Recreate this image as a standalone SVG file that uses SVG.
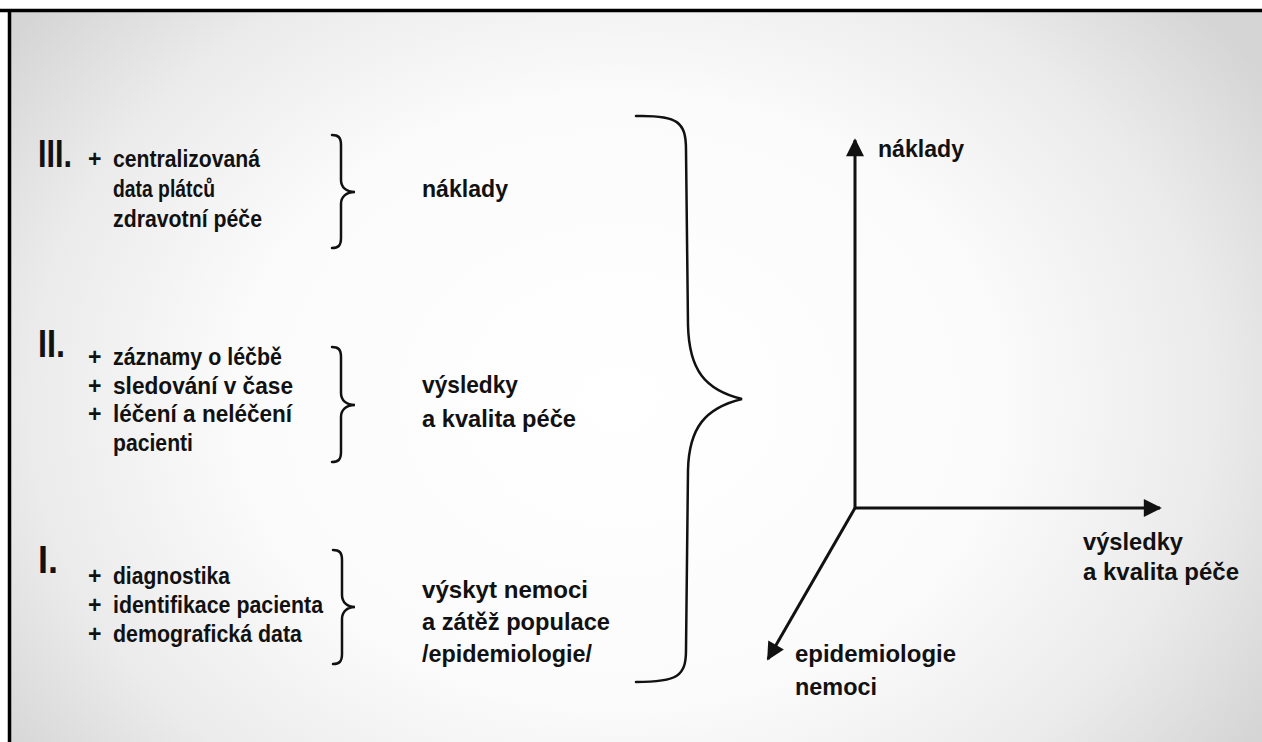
<svg xmlns="http://www.w3.org/2000/svg" width="1262" height="742" viewBox="0 0 1262 742">
<defs>
<radialGradient id="bg" cx="620" cy="400" r="760" gradientUnits="userSpaceOnUse" gradientTransform="translate(620 400) scale(1 0.8) translate(-620 -400)">
<stop offset="0" stop-color="#ffffff"/>
<stop offset="0.5" stop-color="#fbfbfb"/>
<stop offset="0.78" stop-color="#ebebeb"/>
<stop offset="1" stop-color="#d5d5d5"/>
</radialGradient>
<marker id="ah" viewBox="0 0 10 10" refX="9" refY="5" markerWidth="8" markerHeight="6" markerUnits="strokeWidth" orient="auto">
<path d="M0,0 L10,5 L0,10 Z" fill="#111"/>
</marker>
<style>
.t{font-family:"Liberation Sans",Arial,Helvetica,sans-serif;font-weight:bold;fill:#111}
.s{font-size:23px}
.m{font-size:24px}
.r{font-size:38px}
.br{fill:none;stroke:#111;stroke-width:2.5;stroke-linecap:round}
.ax{fill:none;stroke:#111;stroke-width:3}
</style>
</defs>
<rect x="0" y="0" width="1262" height="742" fill="#ffffff"/>
<rect x="9" y="11" width="1253" height="731" fill="url(#bg)"/>
<line x1="0" y1="10.5" x2="1262" y2="10.5" stroke="#000" stroke-width="3.5"/>
<line x1="9.5" y1="9" x2="9.5" y2="742" stroke="#000" stroke-width="3.5"/>

<g id="level3">
<text class="t r" x="38" y="167" textLength="34" lengthAdjust="spacingAndGlyphs">III.</text>
<text class="t s" x="88" y="167">+</text>
<text class="t s" x="113" y="167" textLength="147" lengthAdjust="spacingAndGlyphs">centralizovaná</text>
<text class="t s" x="113" y="197" textLength="102" lengthAdjust="spacingAndGlyphs">data plátců</text>
<text class="t s" x="113" y="227" textLength="149" lengthAdjust="spacingAndGlyphs">zdravotní péče</text>
<path class="br" d="M332,135 C338,135 341,137 341,145 L341,180 C341,187 346,192 355,192 C346,192 341,197 341,204 L341,238 C341,246 338,248 332,248"/>
</g>
<g id="label3">
<text class="t m" x="422" y="197" textLength="86" lengthAdjust="spacingAndGlyphs">náklady</text>
</g>

<g id="level2">
<text class="t r" x="38" y="357" textLength="27" lengthAdjust="spacingAndGlyphs">II.</text>
<text class="t s" x="88" y="365">+</text>
<text class="t s" x="113" y="365" textLength="169" lengthAdjust="spacingAndGlyphs">záznamy o léčbě</text>
<text class="t s" x="88" y="394">+</text>
<text class="t s" x="113" y="394" textLength="180" lengthAdjust="spacingAndGlyphs">sledování v čase</text>
<text class="t s" x="88" y="422">+</text>
<text class="t s" x="113" y="422" textLength="179" lengthAdjust="spacingAndGlyphs">léčení a neléčení</text>
<text class="t s" x="113" y="451" textLength="80" lengthAdjust="spacingAndGlyphs">pacienti</text>
<path class="br" d="M332,347 C338,347 341,349 341,357 L341,393 C341,400 346,405 355,405 C346,405 341,410 341,417 L341,452 C341,460 338,462 332,462"/>
</g>
<g id="label2">
<text class="t m" x="422" y="393" textLength="96" lengthAdjust="spacingAndGlyphs">výsledky</text>
<text class="t m" x="422" y="427" textLength="154" lengthAdjust="spacingAndGlyphs">a kvalita péče</text>
</g>

<g id="level1">
<text class="t r" x="38" y="573" textLength="20" lengthAdjust="spacingAndGlyphs">I.</text>
<text class="t s" x="88" y="584">+</text>
<text class="t s" x="113" y="584" textLength="117" lengthAdjust="spacingAndGlyphs">diagnostika</text>
<text class="t s" x="88" y="613">+</text>
<text class="t s" x="113" y="613" textLength="210" lengthAdjust="spacingAndGlyphs">identifikace pacienta</text>
<text class="t s" x="88" y="642">+</text>
<text class="t s" x="113" y="642" textLength="189" lengthAdjust="spacingAndGlyphs">demografická data</text>
<path class="br" d="M333,550 C339,550 342,552 342,560 L342,595 C342,602 347,607 355,607 C347,607 342,612 342,619 L342,654 C342,662 339,664 333,664"/>
</g>
<g id="label1">
<text class="t m" x="422" y="598" textLength="166" lengthAdjust="spacingAndGlyphs">výskyt nemoci</text>
<text class="t m" x="422" y="630" textLength="188" lengthAdjust="spacingAndGlyphs">a zátěž populace</text>
<text class="t m" x="422" y="662" textLength="170" lengthAdjust="spacingAndGlyphs">/epidemiologie/</text>
</g>

<g id="bigbrace">
<path class="br" d="M636,116 C678,115 686,122 686,150 L688,325 C689,370 705,390 742,399 C705,408 689,428 688,470 L686,650 C686,676 678,682 636,682"/>
</g>

<g id="axes">
<line class="ax" x1="855" y1="509" x2="855" y2="140" marker-end="url(#ah)"/>
<line class="ax" x1="854" y1="508" x2="1160" y2="508" marker-end="url(#ah)"/>
<line class="ax" x1="855" y1="508" x2="768" y2="659" marker-end="url(#ah)"/>
</g>
<g id="axis-labels">
<text class="t m" x="878" y="157" textLength="86" lengthAdjust="spacingAndGlyphs">náklady</text>
<text class="t m" x="1083" y="550" textLength="100" lengthAdjust="spacingAndGlyphs">výsledky</text>
<text class="t m" x="1083" y="580" textLength="156" lengthAdjust="spacingAndGlyphs">a kvalita péče</text>
<text class="t m" x="795" y="662" textLength="161" lengthAdjust="spacingAndGlyphs">epidemiologie</text>
<text class="t m" x="795" y="695" textLength="82" lengthAdjust="spacingAndGlyphs">nemoci</text>
</g>
</svg>
